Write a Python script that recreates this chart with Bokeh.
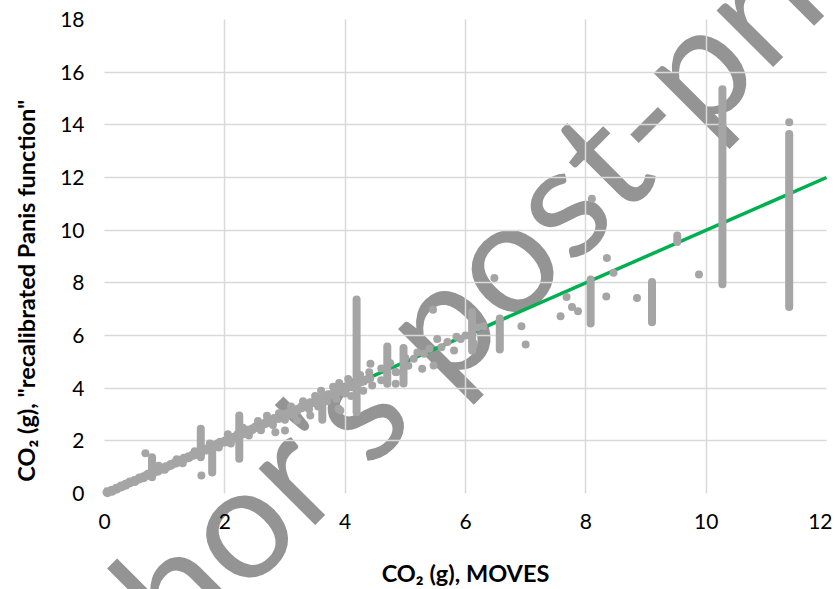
import math
from bokeh.plotting import figure
from bokeh.models import Range1d, FixedTicker
from bokeh.core.properties import value
from bokeh.embed import file_html
from bokeh.resources import INLINE

# ---------------- data ----------------
x_ticks = [0, 2, 4, 6, 8, 10, 12]
y_ticks = [0, 2, 4, 6, 8, 10, 12, 14, 16, 18]

# main band of points along the diagonal
band_x = [0.05, 0.12, 0.20, 0.28, 0.35, 0.42, 0.50, 0.58, 0.65, 0.72, 0.80, 0.88, 0.95,
          1.02, 1.10, 1.18, 1.25, 1.32, 1.40, 1.48, 1.55, 1.62, 1.70, 1.78, 1.85, 1.92,
          2.00, 2.08, 2.15, 2.22, 2.30, 2.38, 2.45, 2.52, 2.60, 2.68, 2.75, 2.82, 2.90,
          2.98, 3.05, 3.12, 3.20, 3.28, 3.35, 3.42, 3.50, 3.58, 3.65, 3.72, 3.80, 3.88,
          3.95, 4.02, 4.10, 4.20, 4.30, 4.40]
band_y = [0.05, 0.10, 0.18, 0.27, 0.33, 0.42, 0.47, 0.57, 0.62, 0.71, 0.78, 0.86, 0.94,
          1.00, 1.08, 1.17, 1.22, 1.32, 1.38, 1.47, 1.53, 1.62, 1.67, 1.78, 1.83, 1.93,
          1.97, 2.08, 2.12, 2.23, 2.28, 2.38, 2.43, 2.53, 2.57, 2.68, 2.73, 2.83, 2.87,
          2.98, 3.02, 3.13, 3.17, 3.28, 3.32, 3.43, 3.47, 3.58, 3.62, 3.73, 3.77, 3.88,
          3.92, 4.03, 4.07, 4.18, 4.28, 4.37]

# scatter around the band and isolated points
spread_x = [0.90, 1.00, 1.20, 1.30, 1.50, 1.60, 1.75, 1.90, 2.05, 2.10, 2.30, 2.40, 2.55,
            2.60, 2.70, 2.80, 2.90, 3.00, 3.10, 3.15, 3.30, 3.40, 3.50, 3.55, 3.60, 3.70,
            3.80, 3.85, 3.90, 4.00, 4.05, 4.10, 4.25, 4.30, 4.40, 4.45, 4.60, 4.60, 4.75,
            4.85, 5.00, 5.05, 5.20, 5.40, 5.60, 5.70, 5.85, 6.00, 6.20, 6.30,
            0.68, 1.61, 2.84, 3.00, 3.20, 3.42, 3.89, 3.92, 4.42, 4.84, 4.84, 5.28, 5.47,
            5.14, 5.31, 5.53, 5.81, 5.92, 6.14, 5.46, 6.48, 6.93, 7.00, 7.58, 7.68, 7.77,
            7.87, 8.10, 8.34, 8.35, 8.46, 8.85, 9.88, 11.38]
spread_y = [1.05, 0.90, 1.30, 1.15, 1.60, 1.45, 1.90, 1.75, 2.25, 1.90, 2.50, 2.20, 2.75,
            2.40, 2.95, 2.60, 3.05, 2.80, 3.30, 2.95, 3.50, 3.20, 3.70, 3.30, 3.90, 3.50,
            4.05, 3.60, 4.20, 3.80, 4.35, 3.70, 4.50, 3.90, 4.60, 4.10, 4.75, 4.30, 4.95,
            4.60, 5.15, 4.85, 5.35, 5.50, 5.55, 5.75, 5.95, 6.00, 6.30, 6.35,
            1.53, 0.68, 2.33, 2.39, 2.77, 2.96, 3.22, 3.15, 4.93, 4.61, 4.17, 4.74, 4.86,
            5.12, 5.31, 5.87, 5.43, 5.87, 5.69, 6.98, 8.18, 6.35, 5.66, 6.73, 7.46, 7.08,
            6.92, 11.19, 7.48, 8.94, 8.38, 7.42, 8.32, 14.10]

# vertical runs of points at a single MOVES value
col_x = [0.79, 1.60, 1.79, 2.24, 3.62, 4.19, 4.70, 4.97, 6.11, 6.57, 8.08, 9.10, 9.52, 10.27, 11.38]
col_lo = [0.62, 1.38, 0.80, 1.32, 2.80, 3.09, 4.17, 4.18, 5.43, 5.47, 6.46, 6.50, 9.55, 7.95, 7.08]
col_hi = [1.38, 2.46, 1.63, 2.96, 3.50, 7.37, 5.58, 5.53, 6.89, 6.65, 8.13, 8.03, 9.80, 15.35, 13.65]

# 1:1 line and origin point
line_x = [0, 12]
line_y = [0, 12]
origin_x = [0]
origin_y = [0]

watermark = ["Author's post-print"]

GRAY = "#A5A5A5"
FONT = "Lato"
NB = "\u00a0"

p = figure(width=832, height=589, x_range=Range1d(0, 12), y_range=Range1d(0, 18),
           output_backend="svg", toolbar_location=None,
           min_border_left=104, min_border_right=6, min_border_top=19, min_border_bottom=96)
p.outline_line_color = None
p.background_fill_color = None
p.border_fill_color = "white"

for ax in (p.xaxis[0], p.yaxis[0]):
    ax.axis_line_color = None
    ax.major_tick_line_color = None
    ax.minor_tick_line_color = None
    ax.major_tick_out = 0
    ax.major_tick_in = 0
    ax.major_label_text_font = FONT
    ax.major_label_text_font_size = "21px"
    ax.major_label_text_color = "#000000"
    ax.axis_label_text_font = FONT
    ax.axis_label_text_font_style = "bold"
    ax.axis_label_text_font_size = "23.5px"
    ax.axis_label_text_color = "#000000"

p.xaxis.ticker = FixedTicker(ticks=x_ticks)
p.yaxis.ticker = FixedTicker(ticks=y_ticks)
p.xaxis.major_label_standoff = 20
p.yaxis.major_label_standoff = 20
p.xaxis.axis_label = "CO\u2082 (g), MOVES"
p.yaxis.axis_label = "CO\u2082 (g), \"recalibrated Panis function\"" + NB * 12
p.xaxis.axis_label_standoff = 27
p.yaxis.axis_label_standoff = 17

p.xgrid.ticker = FixedTicker(ticks=x_ticks)
p.ygrid.ticker = FixedTicker(ticks=y_ticks)
p.grid.grid_line_color = "#D9D9D9"
p.grid.grid_line_width = 1.5
p.xgrid.level = "annotation"
p.ygrid.level = "annotation"

# watermark: painted before the grid and the marks, not clipped to the frame
wm_x = (426 - 104) / 60.17
wm_y = (493 - 327) / 26.33
p.text(x=[wm_x], y=[wm_y], text=watermark, angle=math.pi / 4,
       text_align="center", text_baseline="alphabetic",
       text_font=value("Lato"), text_font_size=value("158px"),
       text_color="#949494", level="guide")

r1 = p.line(line_x, line_y, line_color="#00B050", line_width=3.5)
r2 = p.segment(x0=col_x, y0=col_lo, x1=col_x, y1=col_hi, line_color=GRAY, line_width=8,
               line_cap="round")
r3 = p.scatter(band_x, band_y, size=10, fill_color=GRAY, line_color=None)
r4 = p.scatter(spread_x, spread_y, size=8, fill_color=GRAY, line_color=None)
for r in (r1, r2, r3, r4):
    r.level = "overlay"
# origin point stays clipped to the plot area
p.scatter(origin_x, origin_y, size=10, fill_color="#F8CBAD", line_color="#ED7D31",
          line_width=2)

open("out.html", "w").write(file_html(p, INLINE))
